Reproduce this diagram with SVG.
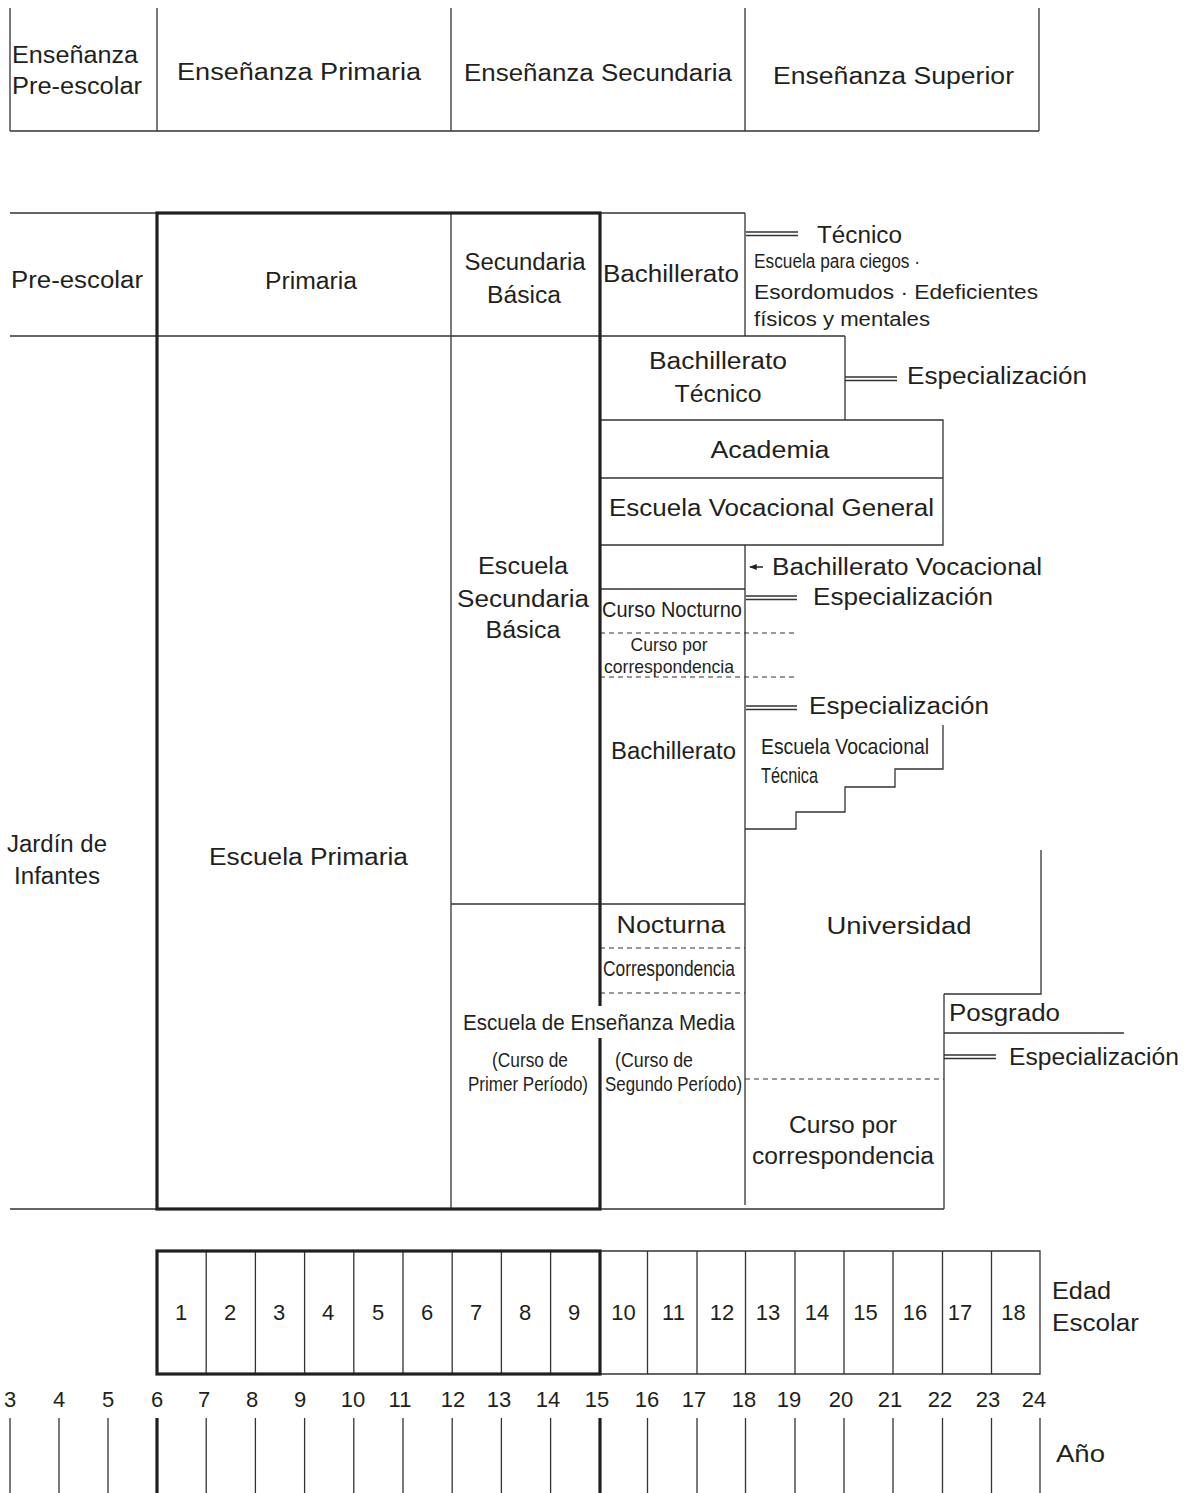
<svg xmlns="http://www.w3.org/2000/svg" width="1190" height="1493" viewBox="0 0 1190 1493">
<defs>
<style>
.ln{stroke:#333;stroke-width:1.3;fill:none}
.th{stroke:#231f20;stroke-width:3.2;fill:none}
.ds{stroke:#333;stroke-width:1.2;fill:none;stroke-dasharray:5,4}
.t{font-family:"Liberation Sans",Arial,sans-serif;font-size:23px;fill:#231f20}
.m{text-anchor:middle}
.n{font-size:22px}
.sm{font-size:20px}
.c{font-size:22px}
.c2{font-size:20px}
.cs{font-size:19px}
</style>
<marker id="ah" viewBox="0 0 10 10" refX="9" refY="5" markerWidth="5" markerHeight="5" orient="auto"><path d="M0,1 L10,5 L0,9 Z" fill="#231f20"/></marker>
</defs>
<rect width="1190" height="1493" fill="#fff"/>

<!-- header -->
<g id="header-lines">
<path class="ln" d="M10,8V131M157,8V131M451,8V131M745,8V131M1039,8V131M10,131H1039"/>
</g>
<g id="hdr-preescolar"><text class="t" x="12" y="63" textLength="126" lengthAdjust="spacingAndGlyphs">Enseñanza</text><text class="t" x="12" y="94" textLength="130" lengthAdjust="spacingAndGlyphs">Pre-escolar</text></g>
<g id="hdr-primaria"><text class="t" x="177" y="80" textLength="244" lengthAdjust="spacingAndGlyphs">Enseñanza Primaria</text></g>
<g id="hdr-secundaria"><text class="t" x="464" y="81" textLength="268" lengthAdjust="spacingAndGlyphs">Enseñanza Secundaria</text></g>
<g id="hdr-superior"><text class="t" x="773" y="84" textLength="241" lengthAdjust="spacingAndGlyphs">Enseñanza Superior</text></g>

<!-- main frame lines -->
<g id="frame">
<path class="ln" d="M10,213H745M10,336H845M10,1209H944M451,213V1209M745,213V336M845,336V420M600,420H943V545H600M600,478H943M745,545V1205M600,589H745M451,904H745M944,994V1209M944,994H1041V850M944,1033H1124"/>
<path class="ds" d="M600,633H795M600,677H795M600,948H745M600,993H745M745,1079H944"/>
<path class="ln" d="M943,725V769H895V787H845V812H796V829H745"/>
<rect class="th" x="157" y="213" width="443" height="996"/>
<rect x="595" y="1006" width="10" height="32" fill="#fff"/>
</g>

<g id="preescolar"><text class="t" x="11" y="288" textLength="132" lengthAdjust="spacingAndGlyphs">Pre-escolar</text></g>
<g id="primaria"><text class="t m" x="311" y="289" textLength="92" lengthAdjust="spacingAndGlyphs">Primaria</text></g>
<g id="secundaria-basica"><text class="t m" x="525" y="270" textLength="121" lengthAdjust="spacingAndGlyphs">Secundaria</text><text class="t m" x="524" y="303" textLength="74" lengthAdjust="spacingAndGlyphs">Básica</text></g>
<g id="bachillerato-top"><text class="t" x="603" y="282" textLength="136" lengthAdjust="spacingAndGlyphs">Bachillerato</text></g>
<g id="tecnico"><text class="t" x="817" y="243" textLength="85" lengthAdjust="spacingAndGlyphs">Técnico</text></g>
<g id="escuela-ciegos">
<text class="t sm" x="754" y="268" textLength="166" lengthAdjust="spacingAndGlyphs">Escuela para ciegos ·</text>
<text class="t sm" x="754" y="299" textLength="284" lengthAdjust="spacingAndGlyphs">Esordomudos · Edeficientes</text>
<text class="t sm" x="754" y="326" textLength="176" lengthAdjust="spacingAndGlyphs">físicos y mentales</text>
</g>
<g id="bachillerato-tecnico"><text class="t m" x="718" y="369" textLength="138" lengthAdjust="spacingAndGlyphs">Bachillerato</text><text class="t m" x="718" y="402" textLength="87" lengthAdjust="spacingAndGlyphs">Técnico</text></g>
<g id="esp1"><text class="t" x="907" y="384" textLength="180" lengthAdjust="spacingAndGlyphs">Especialización</text></g>
<g id="academia"><text class="t m" x="770" y="458" textLength="119" lengthAdjust="spacingAndGlyphs">Academia</text></g>
<g id="vocacional-general"><text class="t" x="609" y="516" textLength="325" lengthAdjust="spacingAndGlyphs">Escuela Vocacional General</text></g>
<g id="bach-vocacional"><text class="t" x="772" y="575" textLength="270" lengthAdjust="spacingAndGlyphs">Bachillerato Vocacional</text></g>
<g id="esp2"><text class="t" x="813" y="605" textLength="180" lengthAdjust="spacingAndGlyphs">Especialización</text></g>
<g id="curso-nocturno"><text class="t c" x="602" y="617" textLength="140" lengthAdjust="spacingAndGlyphs">Curso Nocturno</text></g>
<g id="curso-corresp"><text class="t m cs" x="669" y="651" textLength="77" lengthAdjust="spacingAndGlyphs">Curso por</text><text class="t cs" x="604" y="673" textLength="130" lengthAdjust="spacingAndGlyphs">correspondencia</text></g>
<g id="esp3"><text class="t" x="809" y="714" textLength="180" lengthAdjust="spacingAndGlyphs">Especialización</text></g>
<g id="bachillerato"><text class="t" x="611" y="759" textLength="125" lengthAdjust="spacingAndGlyphs">Bachillerato</text></g>
<g id="vocacional-tecnica"><text class="t c" x="761" y="754" textLength="168" lengthAdjust="spacingAndGlyphs">Escuela Vocacional</text><text class="t c" x="761" y="783" textLength="57" lengthAdjust="spacingAndGlyphs">Técnica</text></g>
<g id="jardin"><text class="t m" x="57" y="852" textLength="100" lengthAdjust="spacingAndGlyphs">Jardín de</text><text class="t m" x="57" y="884" textLength="86" lengthAdjust="spacingAndGlyphs">Infantes</text></g>
<g id="escuela-primaria"><text class="t" x="209" y="865" textLength="199" lengthAdjust="spacingAndGlyphs">Escuela Primaria</text></g>
<g id="escuela-secundaria-basica"><text class="t m" x="523" y="574" textLength="90" lengthAdjust="spacingAndGlyphs">Escuela</text><text class="t m" x="523" y="607" textLength="132" lengthAdjust="spacingAndGlyphs">Secundaria</text><text class="t m" x="523" y="638" textLength="75" lengthAdjust="spacingAndGlyphs">Básica</text></g>
<g id="nocturna"><text class="t m" x="671" y="933" textLength="109" lengthAdjust="spacingAndGlyphs">Nocturna</text></g>
<g id="correspondencia"><text class="t m c" x="669" y="976" textLength="132" lengthAdjust="spacingAndGlyphs">Correspondencia</text></g>
<g id="universidad"><text class="t m" x="899" y="934" textLength="145" lengthAdjust="spacingAndGlyphs">Universidad</text></g>
<g id="ensenanza-media">
<text class="t c" x="463" y="1030" textLength="272" lengthAdjust="spacingAndGlyphs">Escuela de Enseñanza Media</text>
<text class="t m c2" x="530" y="1067" textLength="76" lengthAdjust="spacingAndGlyphs">(Curso de</text>
<text class="t c2" x="468" y="1091" textLength="120" lengthAdjust="spacingAndGlyphs">Primer Período)</text>
<text class="t m c2" x="654" y="1067" textLength="78" lengthAdjust="spacingAndGlyphs">(Curso de</text>
<text class="t c2" x="605" y="1091" textLength="137" lengthAdjust="spacingAndGlyphs">Segundo Período)</text>
</g>
<g id="posgrado"><text class="t" x="949" y="1021" textLength="111" lengthAdjust="spacingAndGlyphs">Posgrado</text></g>
<g id="esp4"><text class="t" x="1009" y="1065" textLength="170" lengthAdjust="spacingAndGlyphs">Especialización</text></g>
<g id="curso-corresp-univ"><text class="t m" x="843" y="1133" textLength="108" lengthAdjust="spacingAndGlyphs">Curso por</text><text class="t m" x="843" y="1164" textLength="182" lengthAdjust="spacingAndGlyphs">correspondencia</text></g>

<!-- connectors -->
<g id="connectors">
<path class="ln" d="M746,232H798M746,235.5H798M845,377H897M845,380.5H897M746,596H797M746,599.5H797M746,706H797M746,709.5H797M944,1055H996M944,1058.5H996"/>
<path d="M763,567H750" stroke="#231f20" stroke-width="1.5" marker-end="url(#ah)"/>
</g>

<!-- bottom grid -->
<g id="edad-escolar">
<path class="ln" d="M600,1251H1040V1374H600M206.2,1251V1374M255.4,1251V1374M304.6,1251V1374M353.8,1251V1374M403,1251V1374M452.2,1251V1374M501.4,1251V1374M550.6,1251V1374M647.5,1251V1374M697,1251V1374M745.5,1251V1374M795,1251V1374M844,1251V1374M893,1251V1374M942.5,1251V1374M991.5,1251V1374"/>
<rect class="th" x="157" y="1251" width="443" height="123"/>
<g class="t n m">
<text x="181" y="1320">1</text><text x="230" y="1320">2</text><text x="279" y="1320">3</text><text x="328" y="1320">4</text><text x="378" y="1320">5</text><text x="427" y="1320">6</text><text x="476" y="1320">7</text><text x="525" y="1320">8</text><text x="574" y="1320">9</text>
<text x="623.5" y="1320">10</text><text x="673.5" y="1320">11</text><text x="722" y="1320">12</text><text x="768" y="1320">13</text><text x="817" y="1320">14</text><text x="865.5" y="1320">15</text><text x="915" y="1320">16</text><text x="960" y="1320">17</text><text x="1013.5" y="1320">18</text>
</g>
<text class="t" x="1052" y="1299" textLength="59" lengthAdjust="spacingAndGlyphs">Edad</text>
<text class="t" x="1052" y="1331" textLength="87" lengthAdjust="spacingAndGlyphs">Escolar</text>
</g>
<g id="anio">
<path class="ln" d="M10,1418V1493M59,1418V1493M108,1418V1493M206.2,1418V1493M255.4,1418V1493M304.6,1418V1493M353.8,1418V1493M403,1418V1493M452.2,1418V1493M501.4,1418V1493M550.6,1418V1493M647.5,1418V1493M697,1418V1493M745.5,1418V1493M795,1418V1493M844,1418V1493M893,1418V1493M942.5,1418V1493M991.5,1418V1493M1040,1418V1493"/>
<path class="th" d="M157,1418V1493M600,1418V1493"/>
<g class="t n m">
<text x="10" y="1407">3</text><text x="59" y="1407">4</text><text x="108" y="1407">5</text><text x="157" y="1407">6</text><text x="204" y="1407">7</text><text x="252" y="1407">8</text><text x="300" y="1407">9</text><text x="353" y="1407">10</text><text x="400" y="1407">11</text><text x="453" y="1407">12</text><text x="499" y="1407">13</text><text x="548" y="1407">14</text><text x="597" y="1407">15</text><text x="647" y="1407">16</text><text x="694" y="1407">17</text><text x="744" y="1407">18</text><text x="789" y="1407">19</text><text x="841" y="1407">20</text><text x="890" y="1407">21</text><text x="940" y="1407">22</text><text x="988" y="1407">23</text><text x="1034" y="1407">24</text>
</g>
<text class="t" x="1056" y="1462" textLength="49" lengthAdjust="spacingAndGlyphs">Año</text>
</g>
</svg>
